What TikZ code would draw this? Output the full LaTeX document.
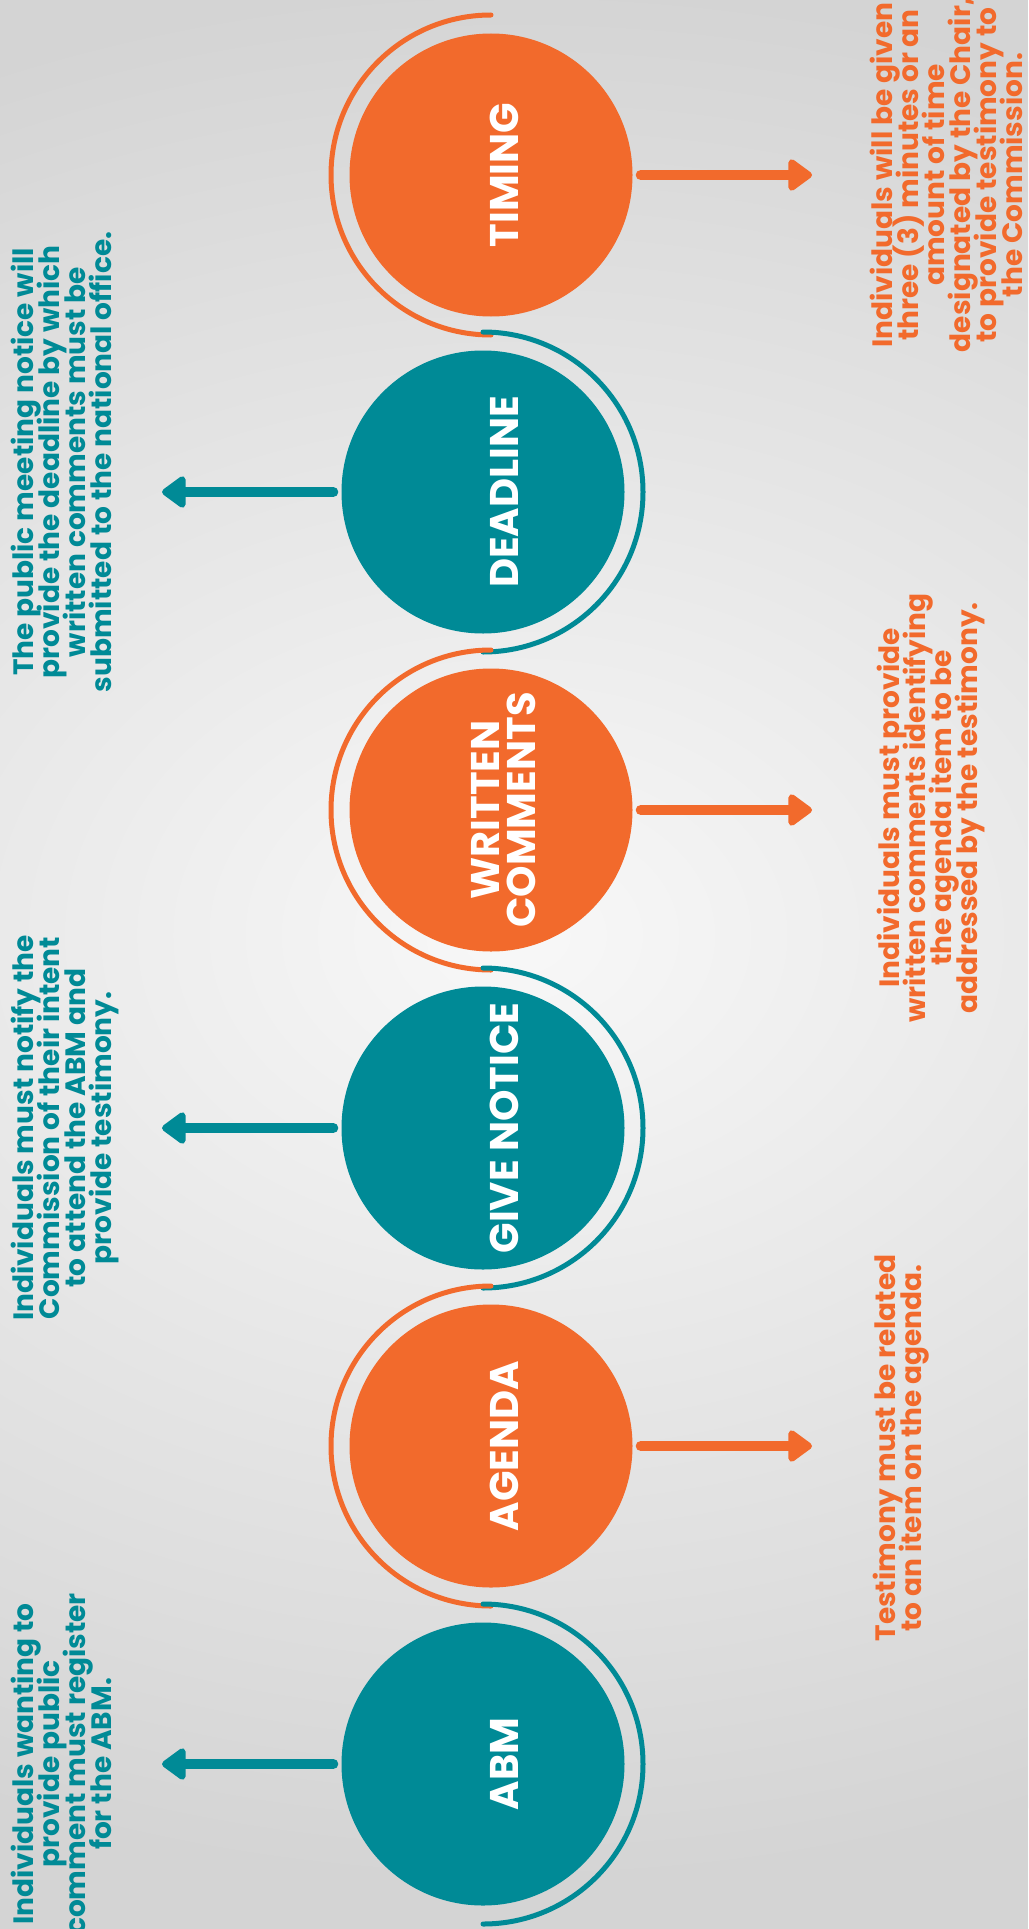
\documentclass[tikz,border=0pt]{standalone}
\usepackage{fontspec}
\setmainfont{Poppins}
\usetikzlibrary{arrows.meta}
\definecolor{myorange}{HTML}{F26A2C}
\definecolor{myteal}{HTML}{008A96}
\definecolor{bgin}{HTML}{F8F8F8}
\definecolor{bgout}{HTML}{D4D4D4}
\newcommand\labelfont{\fontsize{40}{36}\selectfont\bfseries\lineskiplimit-100pt\relax}
\newcommand\descfont{\fontsize{28}{26}\selectfont\bfseries\lineskiplimit-100pt\relax}
\begin{document}
\begin{tikzpicture}[x=1pt,y=-1pt,
  stepcircle/.style={circle, minimum size=283pt, inner sep=0pt},
  tealc/.style={stepcircle, fill=myteal},
  orangec/.style={stepcircle, fill=myorange},
  steplabel/.style={text=white, font=\labelfont, rotate=90, align=center, inner sep=0pt},
  desc/.style={font=\descfont, rotate=90, align=center, inner sep=0pt, anchor=north},
  tealdesc/.style={desc, text=myteal},
  orangedesc/.style={desc, text=myorange},
  arcO/.style={draw=myorange, line width=5pt, line cap=round},
  arcT/.style={draw=myteal, line width=5pt, line cap=round},
  arrO/.style={draw=myorange, line width=10pt, line cap=round, -{Triangle[length=26pt,width=36pt,round]}},
  arrT/.style={draw=myteal, line width=10pt, line cap=round, -{Triangle[length=26pt,width=36pt,round]}},
]
\useasboundingbox (0,0) rectangle (1028,1929);
\fill[bgout] (0,0) rectangle (1028,1929);
\begin{scope}
  \clip (0,0) rectangle (1028,1929);
  \shade[inner color=bgin, outer color=bgout] (516,935) ellipse (1300pt and 950pt);
\end{scope}

% circles
\node[orangec] (timing)   at (491,175)  {};
\node[tealc]   (deadline) at (483,492)  {};
\node[orangec] (written)  at (491,810)  {};
\node[tealc]   (notice)   at (483,1128) {};
\node[orangec] (agenda)   at (491,1446) {};
\node[tealc]   (abm)      at (483,1764) {};

% arcs
\draw[arcO] (timing.center)   ++(0,-160) arc[start angle=90, end angle=270, radius=160pt];
\draw[arcT] (deadline.center) ++(0,-160) arc[start angle=90, end angle=-90, radius=160pt];
\draw[arcO] (written.center)  ++(0,-160) arc[start angle=90, end angle=270, radius=160pt];
\draw[arcT] (notice.center)   ++(0,-160) arc[start angle=90, end angle=-90, radius=160pt];
\draw[arcO] (agenda.center)   ++(0,-160) arc[start angle=90, end angle=270, radius=160pt];
\draw[arcT] (abm.center)      ++(0,-160) arc[start angle=90, end angle=-90, radius=160pt];

% labels
\node[steplabel] (ltiming)   at (504,175)  {TIMING};
\node[steplabel] (ldeadline) at (504,492)  {DEADLINE};
\node[steplabel] (lwritten)  at (504,810)  {WRITTEN\\COMMENTS};
\node[steplabel] (lnotice)   at (504,1128) {GIVE NOTICE};
\node[steplabel] (lagenda)   at (504,1446) {AGENDA};
\node[steplabel] (labm)      at (504,1764) {ABM};

% arrow ends
\coordinate (ttiming)   at (812,175);
\coordinate (tdeadline) at (162,492);
\coordinate (twritten)  at (812,810);
\coordinate (tnotice)   at (162,1128);
\coordinate (tagenda)   at (812,1446);
\coordinate (tabm)      at (162,1764);

\draw[arrO] ([xshift=8pt]timing.east)   -- (ttiming);
\draw[arrT] ([xshift=-8pt]deadline.west) -- (tdeadline);
\draw[arrO] ([xshift=8pt]written.east)  -- (twritten);
\draw[arrT] ([xshift=-8pt]notice.west)   -- (tnotice);
\draw[arrO] ([xshift=8pt]agenda.east)   -- (tagenda);
\draw[arrT] ([xshift=-8pt]abm.west)      -- (tabm);

% descriptions
\node[orangedesc] (dtiming) at (870,175) {Individuals will be given\\three (3) minutes or an\\amount of time\\designated by the Chair,\\to provide testimony to\\the Commission.};
\node[tealdesc] (ddeadline) at (11,462) {The public meeting notice will\\provide the deadline by which\\written comments must be\\submitted to the national office.};
\node[orangedesc] (dwritten) at (877,808) {Individuals must provide\\written comments identifying\\the agenda item to be\\addressed by the testimony.};
\node[tealdesc] (dnotice) at (11,1128) {Individuals must notify the\\Commission of their intent\\to attend the ABM and\\provide testimony.};
\node[orangedesc] (dagenda) at (873,1448) {Testimony must be related\\to an item on the agenda.};
\node[tealdesc] (dabm) at (11,1764) {Individuals wanting to\\provide public\\comment must register\\for the ABM.};
\end{tikzpicture}
\end{document}
